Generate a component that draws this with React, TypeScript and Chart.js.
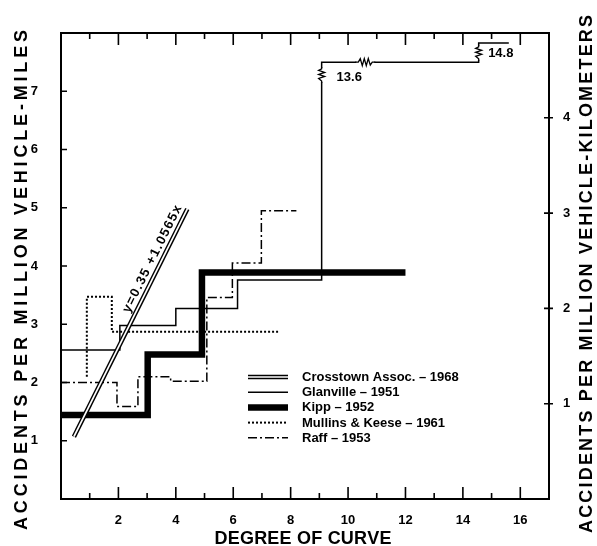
import React, { useEffect, useRef } from 'react';
import { Chart, registerables } from 'chart.js';
Chart.register(...registerables);

// ---------- data ----------
const seriesNames = ['Crosstown Assoc. – 1968', 'Glanville – 1951', 'Kipp – 1952', 'Mullins & Keese – 1961', 'Raff – 1953'];

const crosstownX = [0.45, 4.4];
const crosstownY = [1.07, 4.98];

const glanvilleX = [0, 2.05, 2.05, 4.0, 4.0, 6.15, 6.15, 9.08, 9.08, 14.55, 14.55, 15.6];
const glanvilleY = [2.56, 2.56, 2.98, 2.98, 3.27, 3.27, 3.76, 3.76, 7.5, 7.5, 7.83, 7.83];

const kippX = [0, 3.02, 3.02, 4.91, 4.91, 12];
const kippY = [1.44, 1.44, 2.48, 2.48, 3.89, 3.89];

const mullinsX = [0.9, 0.9, 1.77, 1.77, 7.63];
const mullinsY = [2.1, 3.47, 3.47, 2.87, 2.87];

const raffX = [0, 1.95, 1.95, 2.68, 2.68, 3.82, 3.82, 5.08, 5.08, 5.97, 5.97, 6.98, 6.98, 8.2];
const raffY = [2.0, 2.0, 1.59, 1.59, 2.1, 2.1, 2.02, 2.02, 3.46, 3.46, 4.05, 4.05, 4.95, 4.95];

const xLabelValues = [2, 4, 6, 8, 10, 12, 14, 16];
const yLabelValues = [1, 2, 3, 4, 5, 6, 7];
const kmLabelValues = [1, 2, 3, 4];

// off-scale breaks on the Glanville line
const breakX = [9.08, 10.6, 14.55];
const breakY = [7.28, 7.5, 7.66];
const breakDir = ['v', 'h', 'v'];
const breakLabelText = ['13.6', '14.8'];
const breakLabelX = [9.6, 14.88];
const breakLabelY = [7.24, 7.65];

const eqText = 'y=0.35 +1.0565x';
const eqX = 3.18;
const eqY = 4.12;

const xTitle = 'DEGREE OF CURVE';
const yTitle = 'ACCIDENTS PER MILLION VEHICLE-MILES';
const y1Title = 'ACCIDENTS PER MILLION VEHICLE-KILOMETERS';

const pts = (xs: number[], ys: number[]) => xs.map((x, i) => ({ x, y: ys[i] }));

function drawSpaced(ctx: CanvasRenderingContext2D, text: string, cx: number, cy: number, target: number, angle: number) {
  ctx.save();
  ctx.translate(cx, cy);
  ctx.rotate(angle);
  const chars = [...text];
  const widths = chars.map((c) => ctx.measureText(c).width);
  const natural = widths.reduce((a, b) => a + b, 0);
  const extra = (target - natural) / (chars.length - 1);
  let x = -target / 2;
  ctx.textAlign = 'left';
  ctx.textBaseline = 'middle';
  chars.forEach((c, i) => {
    ctx.fillText(c, x, 0);
    x += widths[i] + extra;
  });
  ctx.restore();
}

const styles = [
  { width: 4.6, dash: [] as number[], double: true },
  { width: 1.5, dash: [] as number[], double: false },
  { width: 6.5, dash: [] as number[], double: false },
  { width: 2, dash: [2, 2], double: false },
  { width: 1.5, dash: [9, 3, 2, 3], double: false },
];

const decor = {
  id: 'decor',
  afterDatasetsDraw(chart: any) {
    const { ctx, chartArea: a, scales } = chart;
    const xs = scales.x, ys = scales.y, y1 = scales.y1;
    ctx.save();
    ctx.setLineDash([]);
    // break symbols
    breakX.forEach((bx, i) => {
      const px = xs.getPixelForValue(bx);
      const py = ys.getPixelForValue(breakY[i]);
      ctx.fillStyle = '#fff';
      ctx.strokeStyle = '#000';
      ctx.lineWidth = 1.3;
      ctx.beginPath();
      if (breakDir[i] === 'v') {
        ctx.fillRect(px - 5, py - 7, 10, 14);
        ctx.moveTo(px, py - 8);
        ctx.lineTo(px, py - 6);
        ctx.lineTo(px - 3, py - 4.5);
        ctx.lineTo(px + 3, py - 2.5);
        ctx.lineTo(px - 3, py - 0.5);
        ctx.lineTo(px + 3, py + 1.5);
        ctx.lineTo(px - 3, py + 3.5);
        ctx.lineTo(px, py + 6);
        ctx.lineTo(px, py + 8);
      } else {
        ctx.fillRect(px - 9, py - 5, 18, 10);
        ctx.moveTo(px - 10, py);
        ctx.lineTo(px - 7, py);
        ctx.lineTo(px - 5, py - 3.5);
        ctx.lineTo(px - 3, py + 3.5);
        ctx.lineTo(px - 1, py - 3.5);
        ctx.lineTo(px + 1, py + 3.5);
        ctx.lineTo(px + 3, py - 3.5);
        ctx.lineTo(px + 5, py + 3);
        ctx.lineTo(px + 7, py);
        ctx.lineTo(px + 10, py);
      }
      ctx.stroke();
    });
    // break labels
    ctx.fillStyle = '#000';
    ctx.font = 'bold 13px "Liberation Sans"';
    ctx.textAlign = 'left';
    ctx.textBaseline = 'middle';
    breakLabelText.forEach((t, i) => {
      ctx.fillText(t, xs.getPixelForValue(breakLabelX[i]), ys.getPixelForValue(breakLabelY[i]));
    });
    // equation label along the regression line
    const p1x = xs.getPixelForValue(crosstownX[0]);
    const p1y = ys.getPixelForValue(crosstownY[0]);
    const p2x = xs.getPixelForValue(crosstownX[1]);
    const p2y = ys.getPixelForValue(crosstownY[1]);
    const ang = Math.atan2(p2y - p1y, p2x - p1x);
    ctx.font = 'bold 13px "Liberation Sans"';
    drawSpaced(ctx, eqText, xs.getPixelForValue(eqX), ys.getPixelForValue(eqY), 118, ang);

    // frame
    ctx.strokeStyle = '#000';
    ctx.lineWidth = 2;
    ctx.strokeRect(a.left, a.top, a.right - a.left, a.bottom - a.top);
    ctx.lineWidth = 1.6;
    ctx.beginPath();
    xs.ticks.forEach((t: any) => {
      const v = t.value;
      if (v <= 0 || v >= xs.max) return;
      const px = xs.getPixelForValue(v);
      const len = v % 2 === 0 ? 12 : 6;
      ctx.moveTo(px, a.bottom);
      ctx.lineTo(px, a.bottom - len);
      ctx.moveTo(px, a.top);
      ctx.lineTo(px, a.top + len);
    });
    ys.ticks.forEach((t: any) => {
      const v = t.value;
      if (v <= 0 || v >= ys.max) return;
      const py = ys.getPixelForValue(v);
      ctx.moveTo(a.left, py);
      ctx.lineTo(a.left + 6, py);
    });
    y1.ticks.forEach((t: any) => {
      const v = t.value;
      if (!kmLabelValues.includes(v)) return;
      const py = y1.getPixelForValue(v);
      ctx.moveTo(a.right - 5, py);
      ctx.lineTo(a.right + 4, py);
    });
    ctx.stroke();

    // legend inside the plot
    const rowY0 = 377;
    const rowH = 15.2;
    const sx0 = 248, sx1 = 288, tx = 302;
    ctx.font = 'bold 13px "Liberation Sans"';
    ctx.textAlign = 'left';
    ctx.textBaseline = 'middle';
    seriesNames.forEach((name, i) => {
      const y = rowY0 + rowH * i;
      const st = styles[i];
      ctx.beginPath();
      ctx.setLineDash(st.dash);
      ctx.lineWidth = st.width;
      ctx.strokeStyle = '#000';
      ctx.moveTo(sx0, y);
      ctx.lineTo(sx1, y);
      ctx.stroke();
      if (st.double) {
        ctx.beginPath();
        ctx.setLineDash([]);
        ctx.lineWidth = 1.7;
        ctx.strokeStyle = '#fff';
        ctx.moveTo(sx0, y);
        ctx.lineTo(sx1, y);
        ctx.stroke();
      }
      ctx.setLineDash([]);
      ctx.fillStyle = '#000';
      ctx.fillText(name, tx, y + 0.5);
    });
    ctx.restore();
  },
  afterDraw(chart: any) {
    const { ctx } = chart;
    ctx.save();
    ctx.fillStyle = '#000';
    ctx.font = 'bold 18px "Liberation Sans"';
    drawSpaced(ctx, xTitle, 303, 539, 177, 0);
    drawSpaced(ctx, yTitle, 22, 280, 500, -Math.PI / 2);
    drawSpaced(ctx, y1Title, 587, 274, 518, -Math.PI / 2);
    ctx.restore();
  },
};

const tickFont = { family: '"Liberation Sans"', size: 13, weight: 'bold' as const };

export default function App() {
  const ref = useRef<HTMLCanvasElement | null>(null);
  useEffect(() => {
    if (!ref.current) return;
    const common = { pointRadius: 0, tension: 0, fill: false, borderCapStyle: 'butt', borderJoinStyle: 'miter' };
    const chart = new Chart(ref.current, {
      type: 'line',
      data: {
        datasets: [
          { ...common, label: 'crosstown-inner', data: pts(crosstownX, crosstownY), borderColor: '#fff', borderWidth: 1.7, order: 0 },
          { ...common, label: seriesNames[0], data: pts(crosstownX, crosstownY), borderColor: '#000', borderWidth: 4.6, order: 1 },
          { ...common, label: seriesNames[2], data: pts(kippX, kippY), borderColor: '#000', borderWidth: 6.5, order: 2 },
          { ...common, label: seriesNames[1], data: pts(glanvilleX, glanvilleY), borderColor: '#000', borderWidth: 1.5, order: 3 },
          { ...common, label: seriesNames[3], data: pts(mullinsX, mullinsY), borderColor: '#000', borderWidth: 2, borderDash: [2, 2], order: 4 },
          { ...common, label: seriesNames[4], data: pts(raffX, raffY), borderColor: '#000', borderWidth: 1.5, borderDash: [9, 3, 2, 3], order: 5 },
        ] as any,
      },
      options: {
        animation: false,
        responsive: true,
        maintainAspectRatio: false,
        layout: { padding: 0 },
        plugins: { legend: { display: false }, tooltip: { enabled: false }, title: { display: false } },
        scales: {
          x: {
            type: 'linear', position: 'bottom', min: 0, max: 17,
            grid: { display: false }, border: { display: false },
            ticks: { stepSize: 1, autoSkip: false, maxRotation: 0, padding: 6, color: '#000', font: tickFont,
              callback: (v: any) => (xLabelValues.includes(Number(v)) ? String(v) : '') },
            afterFit: (s: any) => { s.height = 47; },
          },
          xTop: {
            type: 'linear', position: 'top', min: 0, max: 17,
            grid: { display: false }, border: { display: false }, ticks: { display: false },
            afterFit: (s: any) => { s.height = 33; },
          },
          y: {
            type: 'linear', position: 'left', min: 0, max: 8,
            grid: { display: false }, border: { display: false },
            ticks: { stepSize: 1, autoSkip: false, padding: 15, color: '#000', font: tickFont,
              callback: (v: any) => (yLabelValues.includes(Number(v)) ? String(v) : '') },
            afterFit: (s: any) => { s.width = 61; },
          },
          y1: {
            type: 'linear', position: 'right', min: 0, max: 4.89,
            grid: { display: false }, border: { display: false },
            ticks: { stepSize: 1, autoSkip: false, padding: 6, color: '#000', font: tickFont,
              callback: (v: any) => (kmLabelValues.includes(Number(v)) ? String(v) : '') },
            afterFit: (s: any) => { s.width = 48; },
          },
        },
      } as any,
      plugins: [decor],
    });
    return () => chart.destroy();
  }, []);
  return (
    <div style={{ position: 'fixed', left: 0, top: 0, width: 597, height: 546, background: '#fff' }}>
      <canvas ref={ref} />
    </div>
  );
}
